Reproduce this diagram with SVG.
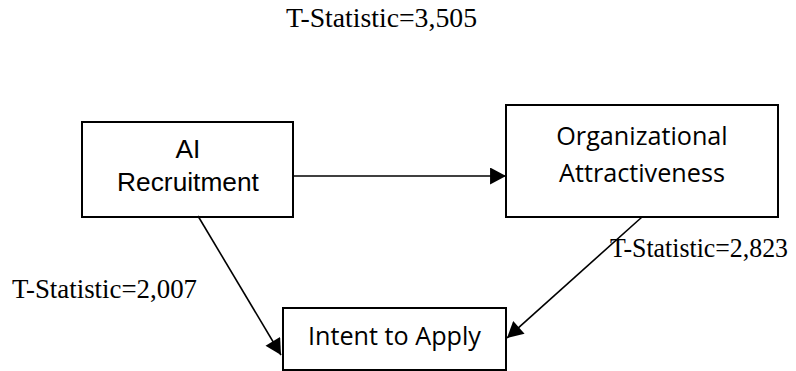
<svg xmlns="http://www.w3.org/2000/svg" width="796" height="371" viewBox="0 0 796 371">
<style>
.box{fill:#fff;stroke:#000;stroke-width:2}
.conn{stroke:#000;stroke-width:1.6;fill:none}
.lbl{font-family:"Liberation Serif","Times New Roman",serif;font-size:27px;fill:#000}
.ar{font-family:"Liberation Sans",Arial,sans-serif;font-size:26.3px;fill:#000}
.cal{font-family:"Open Sans","Noto Sans",sans-serif;font-size:25.2px;fill:#000}
</style>
<defs>
<marker id="ah" markerUnits="userSpaceOnUse" markerWidth="17" markerHeight="17" viewBox="0 0 15 16" refX="15" refY="8" orient="auto">
<path d="M0,0 L15,8 L0,16 Z" fill="#000"/>
</marker>
</defs>
<rect width="796" height="371" fill="#fff"/>
<g id="node-ai">
<rect class="box" x="82" y="122" width="211" height="95"/>
<text class="ar" x="188" y="158" text-anchor="middle">AI</text>
<text class="ar" x="188" y="191" text-anchor="middle">Recruitment</text>
</g>
<g id="node-org">
<rect class="box" x="506" y="105" width="272" height="112"/>
<text class="cal" x="642" y="145" text-anchor="middle">Organizational</text>
<text class="cal" x="642" y="182" text-anchor="middle">Attractiveness</text>
</g>
<g id="node-intent">
<rect class="box" x="283" y="308" width="223" height="62"/>
<text class="cal" x="394.5" y="345" text-anchor="middle">Intent to Apply</text>
</g>
<g id="connectors">
<line class="conn" x1="294" y1="176" x2="506" y2="176" marker-end="url(#ah)"/>
<line class="conn" x1="198" y1="216" x2="281" y2="355" marker-end="url(#ah)"/>
<line class="conn" x1="642" y1="217" x2="507" y2="338" marker-end="url(#ah)"/>
</g>
<g id="labels">
<text class="lbl" x="286" y="27" textLength="191" lengthAdjust="spacingAndGlyphs">T-Statistic=3,505</text>
<text class="lbl" x="12" y="298" textLength="185" lengthAdjust="spacingAndGlyphs">T-Statistic=2,007</text>
<text class="lbl" x="610" y="257" textLength="178" lengthAdjust="spacingAndGlyphs">T-Statistic=2,823</text>
</g>
</svg>
